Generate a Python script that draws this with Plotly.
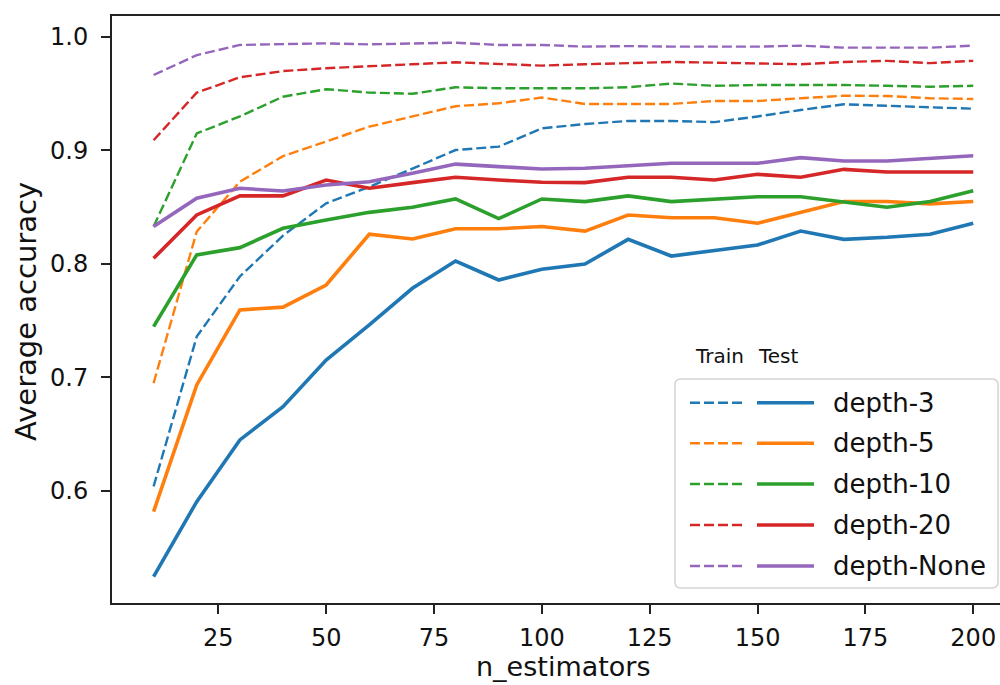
import plotly.graph_objects as go

n_estimators = [10, 20, 30, 40, 50, 60, 70, 80, 90, 100,
                110, 120, 130, 140, 150, 160, 170, 180, 190, 200]

depths = ["depth-3", "depth-5", "depth-10", "depth-20", "depth-None"]
colors = ["#1f77b4", "#ff7f0e", "#2ca02c", "#d62728", "#9467bd"]

train_3 = [0.604, 0.736, 0.789, 0.825, 0.8535, 0.868, 0.884, 0.9004, 0.9034, 0.9195,
           0.9233, 0.926, 0.926, 0.925, 0.930, 0.9357, 0.9407, 0.9395, 0.9386, 0.9368]
test_3 = [0.5245, 0.5906, 0.645, 0.6743, 0.7154, 0.7463, 0.7786, 0.8026, 0.7859, 0.7953,
          0.800, 0.8217, 0.807, 0.8117, 0.8167, 0.829, 0.8217, 0.8235, 0.8262, 0.8359]
train_5 = [0.695, 0.8285, 0.8725, 0.895, 0.908, 0.921, 0.930, 0.939, 0.9416, 0.9467,
           0.941, 0.941, 0.941, 0.9436, 0.9436, 0.946, 0.9483, 0.948, 0.946, 0.9454]
test_5 = [0.5818, 0.6934, 0.7595, 0.762, 0.7815, 0.8262, 0.822, 0.831, 0.831, 0.833,
          0.829, 0.8432, 0.8408, 0.8408, 0.8359, 0.8455, 0.855, 0.855, 0.853, 0.855]
train_10 = [0.833, 0.915, 0.930, 0.9474, 0.954, 0.951, 0.950, 0.9557, 0.9548, 0.9548,
            0.9548, 0.9557, 0.959, 0.957, 0.9577, 0.9577, 0.9577, 0.957, 0.9562, 0.957]
test_10 = [0.7448, 0.808, 0.8144, 0.8314, 0.8388, 0.8455, 0.850, 0.8573, 0.840, 0.8573,
           0.855, 0.860, 0.855, 0.8573, 0.8593, 0.8593, 0.855, 0.850, 0.855, 0.8646]
train_20 = [0.909, 0.951, 0.9645, 0.970, 0.9725, 0.9745, 0.976, 0.9777, 0.9762, 0.9748,
            0.976, 0.9768, 0.978, 0.9774, 0.9768, 0.976, 0.978, 0.979, 0.977, 0.979]
test_20 = [0.805, 0.8432, 0.860, 0.860, 0.874, 0.8667, 0.8717, 0.8764, 0.874, 0.872,
           0.8717, 0.8764, 0.8764, 0.874, 0.879, 0.8764, 0.8834, 0.881, 0.881, 0.881]
train_none = [0.9665, 0.984, 0.993, 0.9935, 0.9944, 0.9935, 0.9944, 0.995, 0.993, 0.993,
              0.9915, 0.992, 0.9915, 0.9915, 0.9915, 0.9924, 0.9906, 0.9906, 0.9906, 0.9924]
test_none = [0.833, 0.858, 0.8667, 0.8643, 0.8696, 0.8725, 0.880, 0.888, 0.8858, 0.8837,
             0.8843, 0.8866, 0.8887, 0.8887, 0.8887, 0.8937, 0.8907, 0.8907, 0.893, 0.8954]

x_ticks = [25, 50, 75, 100, 125, 150, 175, 200]
y_ticks = [0.6, 0.7, 0.8, 0.9, 1.0]

train_series = [train_3, train_5, train_10, train_20, train_none]
test_series = [test_3, test_5, test_10, test_20, test_none]

W, H = 1000, 685
ML, MR, MT, MB = 112, 0, 16, 82
PW, PH = W - ML - MR, H - MT - MB


def px(xp):
    return (xp - ML) / PW


def py(yp):
    return (H - MB - yp) / PH


def rounded_rect(l, t, r, b, rad):
    pts = [
        f"M {px(l + rad)},{py(t)}",
        f"L {px(r - rad)},{py(t)}",
        f"Q {px(r)},{py(t)} {px(r)},{py(t + rad)}",
        f"L {px(r)},{py(b - rad)}",
        f"Q {px(r)},{py(b)} {px(r - rad)},{py(b)}",
        f"L {px(l + rad)},{py(b)}",
        f"Q {px(l)},{py(b)} {px(l)},{py(b - rad)}",
        f"L {px(l)},{py(t + rad)}",
        f"Q {px(l)},{py(t)} {px(l + rad)},{py(t)}",
        "Z",
    ]
    return " ".join(pts)


FONT = "DejaVu Sans"
fig = go.Figure()

for name, col, tr in zip(depths, colors, train_series):
    fig.add_trace(go.Scatter(x=n_estimators, y=tr, mode="lines", name=name + " train",
                             line=dict(color=col, width=2.4, dash="10px,4px"),
                             showlegend=False))
for name, col, te in zip(depths, colors, test_series):
    fig.add_trace(go.Scatter(x=n_estimators, y=te, mode="lines", name=name + " test",
                             line=dict(color=col, width=3.6),
                             showlegend=False))

shapes = []
annotations = []

# legend box
shapes.append(dict(type="path", xref="paper", yref="paper",
                   path=rounded_rect(675, 379, 998, 588, 6),
                   line=dict(color="#d3d3d3", width=1.5), fillcolor="white",
                   layer="above"))

rows = [402.7, 443.3, 484, 525, 566]
for name, col, yr in zip(depths, colors, rows):
    shapes.append(dict(type="line", xref="paper", yref="paper",
                       x0=px(690), x1=px(743), y0=py(yr), y1=py(yr),
                       line=dict(color=col, width=2.4, dash="10px,4px"), layer="above"))
    shapes.append(dict(type="line", xref="paper", yref="paper",
                       x0=px(757), x1=px(814), y0=py(yr), y1=py(yr),
                       line=dict(color=col, width=3.6), layer="above"))
    annotations.append(dict(text=name, xref="paper", yref="paper",
                            x=px(831), y=py(yr), xanchor="left", yanchor="middle",
                            showarrow=False, font=dict(family=FONT, size=26, color="#111")))

annotations.append(dict(text="Train", xref="paper", yref="paper",
                        x=px(693), y=py(356), xanchor="left", yanchor="middle",
                        showarrow=False, font=dict(family=FONT, size=20, color="#111")))
annotations.append(dict(text="Test", xref="paper", yref="paper",
                        x=px(756), y=py(356), xanchor="left", yanchor="middle",
                        showarrow=False, font=dict(family=FONT, size=20, color="#111")))

# axis titles
annotations.append(dict(text="Average accuracy", xref="paper", yref="paper",
                        x=px(26), y=py(312), xanchor="center", yanchor="middle",
                        textangle=-90, showarrow=False,
                        font=dict(family=FONT, size=29, color="#111")))
annotations.append(dict(text="n_estimators", xref="paper", yref="paper",
                        x=px(563), y=py(666), xanchor="center", yanchor="middle",
                        showarrow=False,
                        font=dict(family=FONT, size=27, color="#111")))

fig.update_layout(
    width=W, height=H,
    margin=dict(l=ML, r=MR, t=MT, b=MB),
    paper_bgcolor="white", plot_bgcolor="white",
    font=dict(family=FONT, color="#111"),
    shapes=shapes, annotations=annotations,
    showlegend=False,
)
fig.update_xaxes(range=[0.36, 206.2], tickvals=x_ticks, ticks="outside", ticklen=9,
                 tickwidth=1.5, tickcolor="#222", showline=True, linecolor="#222",
                 linewidth=2, mirror=True, showgrid=False, zeroline=False,
                 ticklabelstandoff=3,
                 tickfont=dict(family=FONT, size=24, color="#111"))
fig.update_yaxes(range=[0.5013, 1.0185], tickvals=y_ticks, tickformat=".1f",
                 ticks="outside", ticklen=9, tickwidth=1.5, tickcolor="#222",
                 showline=True, linecolor="#222", linewidth=2, mirror=False,
                 showgrid=False, zeroline=False, ticklabelstandoff=8,
                 tickfont=dict(family=FONT, size=24, color="#111"))

fig.write_html("out.html",
               config={"displayModeBar": False},
               post_script="document.body.style.margin='0px';document.body.style.overflow='hidden';")
